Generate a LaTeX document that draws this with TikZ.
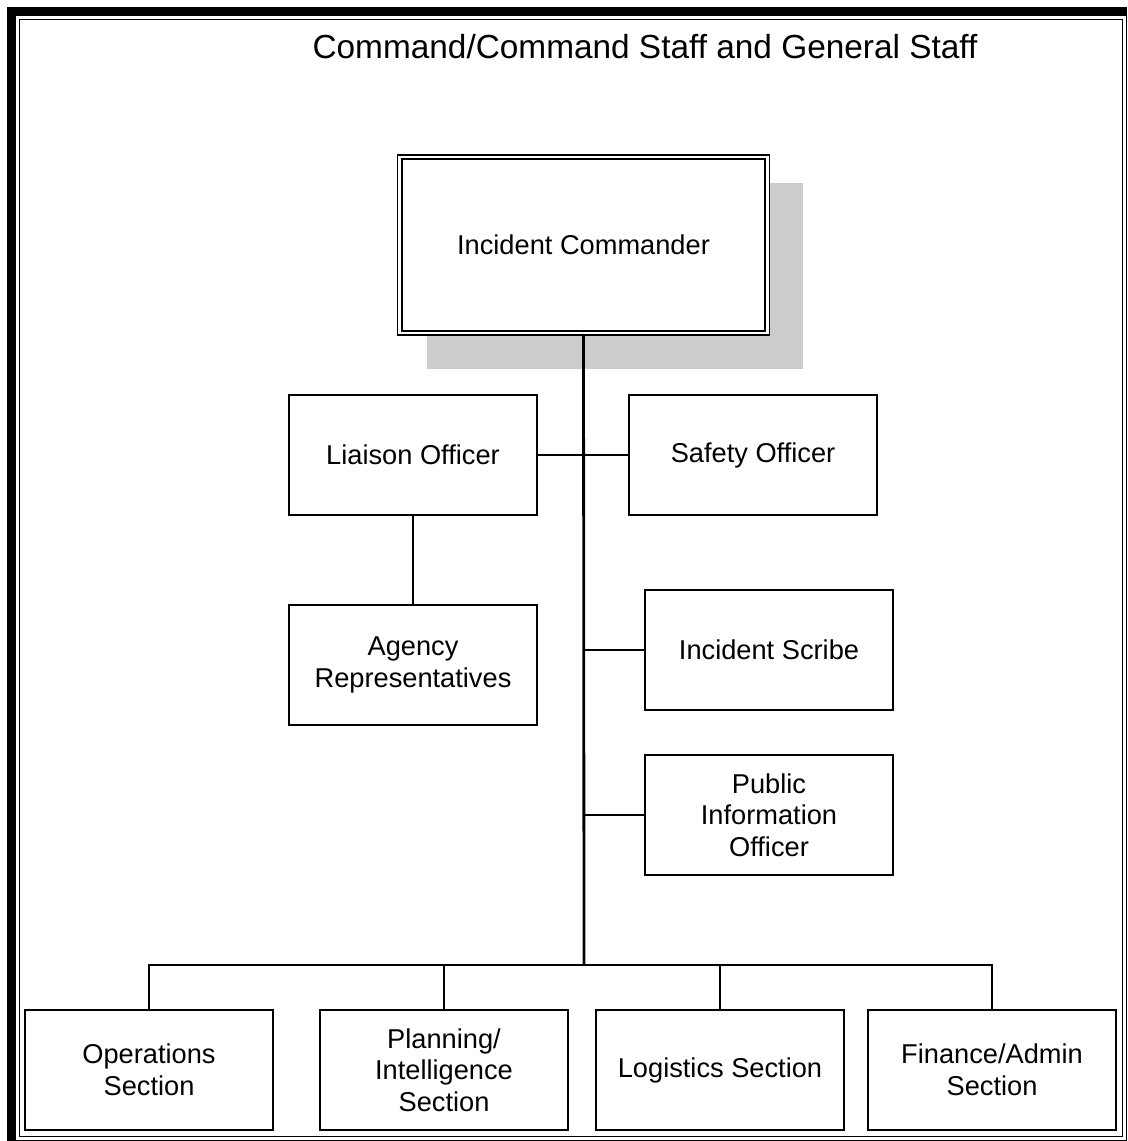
\documentclass[tikz,border=0pt]{standalone}
\usepackage{fontspec}
\setmainfont{Liberation Sans}

\begin{document}
\begin{tikzpicture}[x=0.02cm,y=-0.02cm,
  box/.style={draw,line width=1pt,minimum width=4.96cm,minimum height=2.4cm,
    align=center,font=\fontsize{15.5}{18}\selectfont},
  chief/.style={draw,line width=0.9pt,double,double distance=1.6pt,minimum width=7.36cm,
    minimum height=3.52cm,font=\fontsize{15.5}{18}\selectfont},
  link/.style={line width=1pt},
  trunk/.style={line width=1.6pt}]
\useasboundingbox (0,0) rectangle (1127,1141);
% frame
\fill (7,7) rectangle (1127,16);
\fill (7,7) rectangle (16,1141);
\draw[line width=0.6pt,double,double distance=1.2pt] (17.5,17.5) rectangle (1124.5,1138.5);
% title
\node (title) at (645,47) {\fontsize{19}{22}\selectfont Command/Command Staff and General Staff};
% incident commander with its shadow
\node[chief] (ic) at (583.5,245) {};
\fill[black!20] ([shift={(28,35)}]ic.south west) rectangle ([shift={(35,27)}]ic.north east);
\node[chief,fill=white] (ic) at (583.5,245) {Incident Commander};
% command staff
\node[box] (liaison) at (413,455) {Liaison Officer};
\node[box] (safety) at (753,455) {Safety Officer};
\node[box] (agency) at (413,665) {Agency\\Representatives};
\node[box] (scribe) at (769,650) {Incident Scribe};
\node[box] (pio) at (769,815) {Public\\Information\\Officer};
% general staff
\node[box] (ops) at (149,1070) {Operations\\Section};
\node[box] (plan) at (444,1070) {Planning/\\Intelligence\\Section};
\node[box] (log) at (720,1070) {Logistics Section};
\node[box] (fin) at (992,1070) {Finance/Admin\\Section};
% connectors
\coordinate (bus) at (584,965);
\draw[trunk] (ic.south) -- (bus);
\draw[link] (liaison.east) -- (safety.west);
\draw[link] (liaison.south) -- (agency.north);
\draw[link] (scribe.west) -- (scribe.west -| bus);
\draw[link] (pio.west) -- (pio.west -| bus);
\draw[link] (ops.north) |- (bus) -| (fin.north);
\draw[link] (plan.north) -- (plan.north |- bus);
\draw[link] (log.north) -- (log.north |- bus);
\end{tikzpicture}
\end{document}
